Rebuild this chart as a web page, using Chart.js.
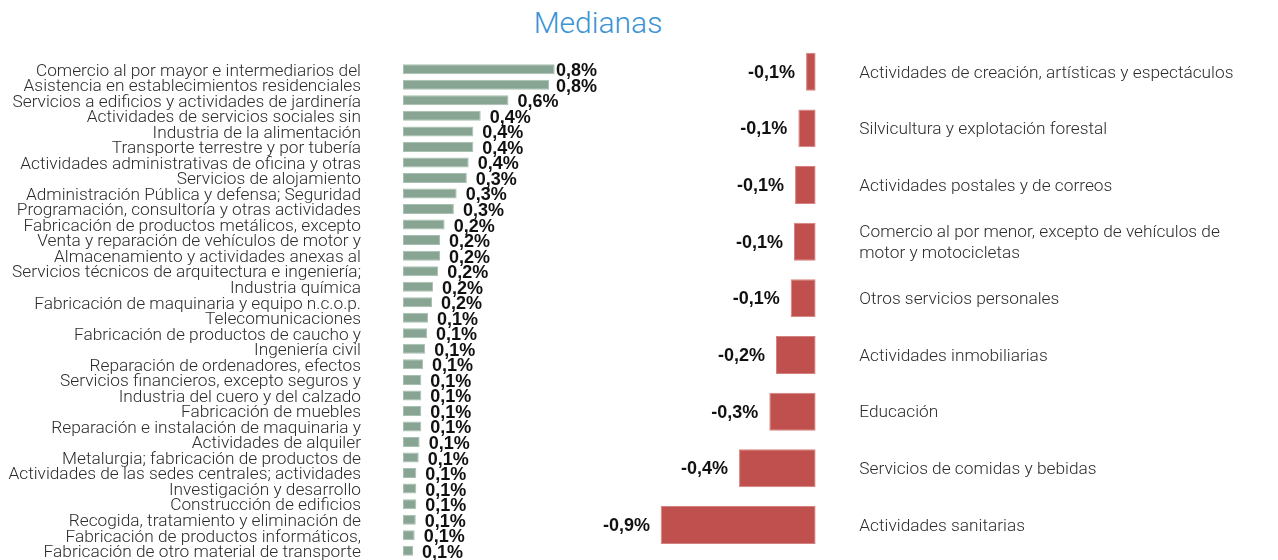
<!DOCTYPE html>
<html>
<head>
<meta charset="utf-8">
<script src="https://cdn.jsdelivr.net/npm/chart.js@4.4.1/dist/chart.umd.min.js"></script>
<style>
  html,body{margin:0;padding:0;background:#fff;width:1278px;height:560px;overflow:hidden;}
  #title{position:absolute;left:498px;width:200px;top:5px;text-align:center;font-family:Roboto,"Liberation Sans",sans-serif;font-weight:300;font-size:30px;color:#3a94d6;}
  #c1{position:absolute;left:0;top:0;}
  #c2{position:absolute;left:590px;top:0;}
</style>
</head>
<body>
<div id="title">Medianas</div>
<canvas id="c1" width="600" height="560"></canvas>
<canvas id="c2" width="688" height="560"></canvas>
<script>
const posCategories = [
  "Comercio al por mayor e intermediarios del",
  "Asistencia en establecimientos residenciales",
  "Servicios a edificios y actividades de jardinería",
  "Actividades de servicios sociales sin",
  "Industria de la alimentación",
  "Transporte terrestre y por tubería",
  "Actividades administrativas de oficina y otras",
  "Servicios de alojamiento",
  "Administración Pública y defensa; Seguridad",
  "Programación, consultoría y otras actividades",
  "Fabricación de productos metálicos, excepto",
  "Venta y reparación de vehículos de motor y",
  "Almacenamiento y actividades anexas al",
  "Servicios técnicos de arquitectura e ingeniería;",
  "Industria química",
  "Fabricación de maquinaria y equipo n.c.o.p.",
  "Telecomunicaciones",
  "Fabricación de productos de caucho y",
  "Ingeniería civil",
  "Reparación de ordenadores, efectos",
  "Servicios financieros, excepto seguros y",
  "Industria del cuero y del calzado",
  "Fabricación de muebles",
  "Reparación e instalación de maquinaria y",
  "Actividades de alquiler",
  "Metalurgia; fabricación de productos de",
  "Actividades de las sedes centrales; actividades",
  "Investigación y desarrollo",
  "Construcción de edificios",
  "Recogida, tratamiento y eliminación de",
  "Fabricación de productos informáticos,",
  "Fabricación de otro material de transporte"
];
const posValues = [0.82, 0.79, 0.57, 0.42, 0.38, 0.38, 0.355, 0.345, 0.29, 0.275, 0.225, 0.2, 0.2, 0.19, 0.162, 0.157,
  0.135, 0.13, 0.12, 0.108, 0.099, 0.099, 0.099, 0.099, 0.09, 0.085, 0.072, 0.072, 0.072, 0.069, 0.063, 0.054];

const negCategories = [
  "Actividades de creación, artísticas y espectáculos",
  "Silvicultura y explotación forestal",
  "Actividades postales y de correos",
  ["Comercio al por menor, excepto de vehículos de", "motor y motocicletas"],
  "Otros servicios personales",
  "Actividades inmobiliarias",
  "Educación",
  "Servicios de comidas y bebidas",
  "Actividades sanitarias"
];
const negValues = [-0.055, -0.099, -0.118, -0.124, -0.143, -0.227, -0.265, -0.438, -0.886];

const GREEN = "#87a592";
const RED = "#c0504d";
const LABEL_FONT = {family: "Roboto, 'Liberation Sans', sans-serif", size: 17.3, weight: 300};
const VALUE_FONT = "bold 18px 'Liberation Sans', Arial, sans-serif";

function fmt(v){ return v.toFixed(1).replace('.', ',') + '%'; }

const valueLabels = (side, minLeft, maxRight) => ({
  id: 'valueLabels' + side,
  afterDatasetsDraw(chart){
    const ctx = chart.ctx;
    const meta = chart.getDatasetMeta(0);
    const data = chart.data.datasets[0].data;
    ctx.save();
    ctx.font = VALUE_FONT;
    ctx.fillStyle = "#111";
    ctx.textBaseline = "middle";
    meta.data.forEach((bar, i) => {
      const txt = fmt(data[i]);
      const w = ctx.measureText(txt).width;
      let x;
      if (side === 'right') {
        x = bar.x + 9;
        if (x + w > maxRight) x = maxRight - w;
      } else {
        x = bar.x - 11 - w;
        if (x < minLeft) x = minLeft;
      }
      ctx.textAlign = "left";
      ctx.fillText(txt, x, bar.y + (side === 'right' ? 2 : 1));
    });
    ctx.restore();
  }
});

function fixAxis(width){
  return (s) => { s.width = width; s.paddingTop = 0; s.paddingBottom = 0; };
}

new Chart(document.getElementById('c1'), {
  type: 'bar',
  data: {
    labels: posCategories,
    datasets: [{data: posValues, backgroundColor: GREEN, borderColor: "#a9bfb1", borderWidth: 1, borderSkipped: false, barPercentage: 0.645, categoryPercentage: 1}]
  },
  options: {
    indexAxis: 'y',
    responsive: false,
    animation: false,
    devicePixelRatio: 1,
    layout: {padding: {top: 61.5, bottom: 1.5, left: 0, right: 12}},
    plugins: {legend: {display: false}, tooltip: {enabled: false}, title: {display: false}},
    scales: {
      x: {display: false, min: 0, max: 1.0},
      y: {
        position: 'left',
        grid: {display: false, drawTicks: false},
        border: {display: false},
        ticks: {autoSkip: false, padding: 42, labelOffset: 2, color: "#2b2b2b", font: {...LABEL_FONT, lineHeight: 1.0}},
        afterFit: fixAxis(403)
      }
    }
  },
  plugins: [valueLabels('right', 0, 597)]
});

new Chart(document.getElementById('c2'), {
  type: 'bar',
  data: {
    labels: negCategories,
    datasets: [{data: negValues, backgroundColor: RED, borderColor: "#d4827f", borderWidth: 1, borderSkipped: false, barPercentage: 0.67, categoryPercentage: 1}]
  },
  options: {
    indexAxis: 'y',
    responsive: false,
    animation: false,
    devicePixelRatio: 1,
    layout: {padding: {top: 43.4, bottom: 6.7, left: 50.7, right: 0}},
    plugins: {legend: {display: false}, tooltip: {enabled: false}, title: {display: false}},
    scales: {
      x: {display: false, min: -1.0, max: 0},
      y: {
        position: 'right',
        grid: {display: false, drawTicks: false},
        border: {display: false},
        ticks: {autoSkip: false, padding: 43.6, labelOffset: 1.5, color: "#2b2b2b", font: {...LABEL_FONT, lineHeight: 1.18}},
        afterFit: fixAxis(688 - 225.7)
      }
    }
  },
  plugins: [valueLabels('left', 13, 0)]
});
</script>
</body>
</html>
